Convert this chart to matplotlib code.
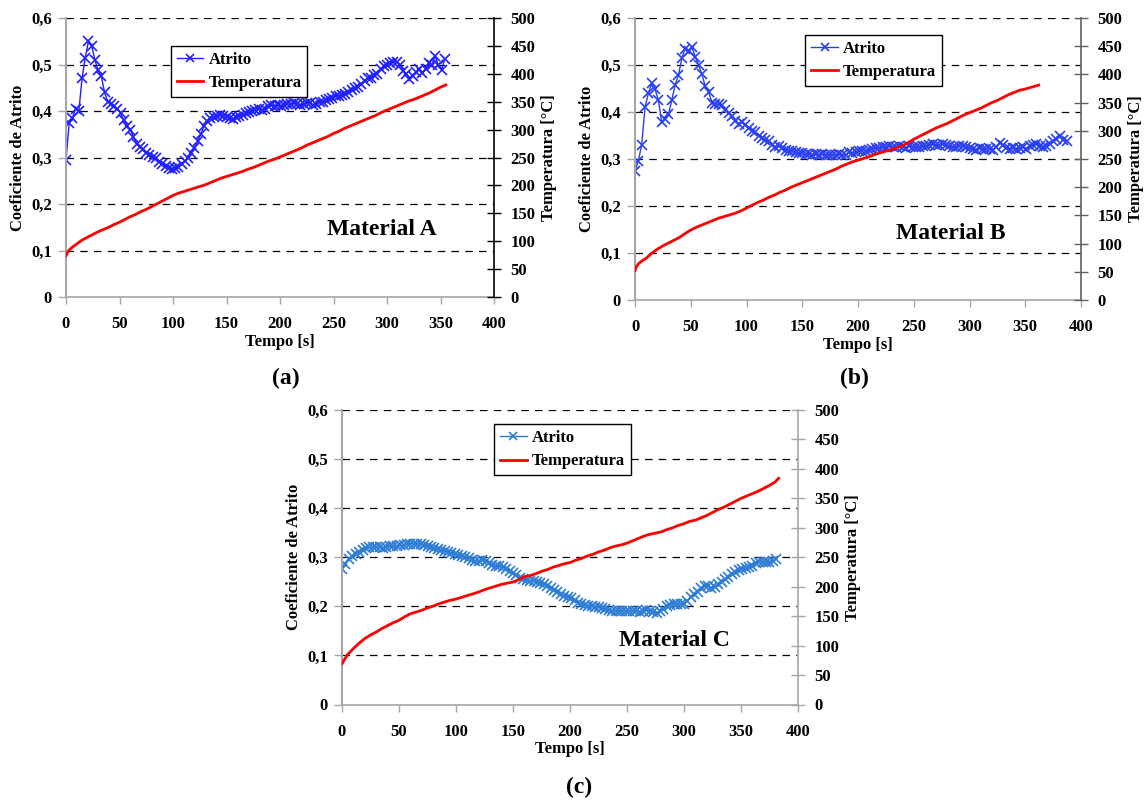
"""Friction coefficient and temperature vs time for materials A, B and C."""

import matplotlib

matplotlib.use("Agg")
import matplotlib.pyplot as plt
import numpy as np
from matplotlib.ticker import FuncFormatter

plt.rcParams["font.family"] = ["Liberation Serif", "DejaVu Serif"]
plt.rcParams["font.weight"] = "bold"

# friction coefficient, sampled every 3 s
STEP = 3.0
mu_a = [
    0.295, 0.375, 0.385, 0.405, 0.400, 0.470, 0.515, 0.550, 0.540, 0.510,
    0.488, 0.475, 0.440, 0.420, 0.415, 0.410, 0.405, 0.395, 0.380, 0.368,
    0.360, 0.345, 0.330, 0.322, 0.318, 0.310, 0.305, 0.302, 0.298, 0.290,
    0.285, 0.282, 0.277, 0.275, 0.277, 0.280, 0.285, 0.292, 0.300, 0.310,
    0.320, 0.335, 0.350, 0.368, 0.378, 0.385, 0.388, 0.390, 0.392, 0.390,
    0.388, 0.385, 0.382, 0.388, 0.390, 0.392, 0.395, 0.398, 0.400, 0.403,
    0.405, 0.402, 0.405, 0.410, 0.412, 0.410, 0.412, 0.410, 0.412, 0.415,
    0.415, 0.418, 0.415, 0.413, 0.415, 0.418, 0.418, 0.412, 0.416, 0.420,
    0.420, 0.423, 0.425, 0.428, 0.432, 0.433, 0.435, 0.436, 0.440, 0.445,
    0.450, 0.452, 0.458, 0.465, 0.470, 0.472, 0.478, 0.480, 0.490, 0.497,
    0.500, 0.503, 0.505, 0.505, 0.500, 0.487, 0.480, 0.468, 0.475, 0.483,
    0.490, 0.482, 0.490, 0.503, 0.500, 0.518, 0.498, 0.488, 0.512,
]
mu_b = [
    0.275, 0.296, 0.330, 0.410, 0.440, 0.462, 0.448, 0.425, 0.378, 0.385,
    0.395, 0.425, 0.458, 0.478, 0.515, 0.535, 0.530, 0.538, 0.518, 0.500,
    0.480, 0.455, 0.442, 0.420, 0.418, 0.416, 0.415, 0.405, 0.398, 0.392,
    0.380, 0.375, 0.378, 0.373, 0.365, 0.360, 0.358, 0.350, 0.345, 0.340,
    0.338, 0.330, 0.325, 0.328, 0.324, 0.320, 0.318, 0.316, 0.314, 0.313,
    0.312, 0.310, 0.311, 0.309, 0.310, 0.308, 0.310, 0.309, 0.308, 0.309,
    0.308, 0.310, 0.309, 0.308, 0.314, 0.312, 0.315, 0.316, 0.318, 0.317,
    0.320, 0.322, 0.323, 0.324, 0.326, 0.325, 0.327, 0.326, 0.325, 0.327,
    0.326, 0.324, 0.327, 0.325, 0.326, 0.325, 0.327, 0.328, 0.330, 0.331,
    0.330, 0.329, 0.331, 0.329, 0.327, 0.326, 0.325, 0.327, 0.328, 0.326,
    0.323, 0.322, 0.320, 0.323, 0.322, 0.321, 0.322, 0.320, 0.325, 0.335,
    0.330, 0.324, 0.322, 0.324, 0.321, 0.323, 0.325, 0.322, 0.327, 0.330,
    0.331, 0.328, 0.326, 0.328, 0.332, 0.338, 0.343, 0.348, 0.340, 0.338,
]
mu_c = [
    0.277, 0.287, 0.297, 0.302, 0.307, 0.311, 0.315, 0.318, 0.320, 0.320,
    0.321, 0.320, 0.319, 0.321, 0.322, 0.322, 0.323, 0.324, 0.325, 0.327,
    0.328, 0.327, 0.328, 0.326, 0.325, 0.322, 0.320, 0.318, 0.316, 0.314,
    0.313, 0.311, 0.309, 0.307, 0.305, 0.302, 0.300, 0.298, 0.295, 0.293,
    0.292, 0.294, 0.293, 0.289, 0.285, 0.283, 0.282, 0.280, 0.276, 0.272,
    0.268, 0.263, 0.258, 0.255, 0.254, 0.252, 0.251, 0.250, 0.248, 0.245,
    0.242, 0.238, 0.234, 0.230, 0.226, 0.222, 0.219, 0.216, 0.212, 0.207,
    0.204, 0.202, 0.201, 0.200, 0.199, 0.198, 0.196, 0.194, 0.192, 0.191,
    0.191, 0.190, 0.191, 0.190, 0.190, 0.191, 0.190, 0.189, 0.190, 0.192,
    0.191, 0.188, 0.187, 0.190, 0.195, 0.200, 0.203, 0.205, 0.205, 0.204,
    0.205, 0.210, 0.220, 0.226, 0.230, 0.238, 0.242, 0.241, 0.238, 0.240,
    0.245, 0.249, 0.255, 0.260, 0.265, 0.270, 0.274, 0.277, 0.278, 0.280,
    0.282, 0.288, 0.291, 0.290, 0.291, 0.290, 0.292, 0.296,
]

# temperature [°C]
temp_t_a = [0, 2] + list(range(5, 356, 5))
temp_a = [
    74, 82, 88, 95, 102, 107, 112, 117, 121, 125, 130, 134, 139, 144, 148,
    153, 157, 162, 167, 172, 177, 182, 186, 189, 192, 195, 198, 201, 205,
    209, 213, 216, 219, 222, 225, 229, 232, 236, 240, 244, 247, 251, 255,
    259, 263, 267, 272, 276, 280, 284, 288, 293, 297, 302, 306, 310, 314,
    318, 322, 326, 331, 335, 339, 343, 347, 351, 354, 358, 362, 366, 371,
    376, 380,
]
temp_t_b = [0, 1, 3, 6] + list(range(10, 356, 5)) + [362]
temp_b = [
    52, 58, 64, 69, 74, 83, 90, 96, 101, 106, 111, 118, 124, 129, 133, 137,
    141, 145, 148, 151, 154, 158, 163, 168, 173, 177, 182, 186, 191, 195,
    200, 204, 208, 212, 216, 220, 224, 228, 232, 237, 241, 245, 248, 251,
    254, 258, 261, 264, 267, 270, 274, 279, 285, 290, 295, 300, 305, 309,
    313, 318, 323, 328, 332, 336, 340, 345, 350, 354, 359, 364, 368, 372,
    374, 377, 381,
]
temp_t_c = [0, 2] + list(range(5, 381, 5)) + [383]
temp_c = [
    69, 76, 85, 95, 104, 112, 118, 123, 129, 134, 139, 143, 149, 154, 157,
    160, 164, 167, 171, 174, 177, 179, 182, 185, 188, 191, 195, 198, 201,
    204, 206, 208, 212, 217, 219, 222, 226, 229, 233, 236, 239, 241, 245,
    248, 252, 255, 259, 262, 266, 269, 271, 274, 278, 282, 286, 289, 291,
    293, 297, 300, 304, 307, 311, 313, 317, 321, 326, 331, 335, 340, 345,
    350, 354, 358, 362, 367, 372, 378, 384,
]

x_ticks = list(range(0, 401, 50))
mu_ticks = [0, 0.1, 0.2, 0.3, 0.4, 0.5, 0.6]
temp_ticks = list(range(0, 501, 50))

RED = "#ff0000"
GRAY = "#a6a6a6"


def _comma(v, _pos):
    if abs(v) < 1e-9:
        return "0"
    return f"{v:.1f}".replace(".", ",")


def draw_panel(fig, rect, mu, t_temp, temp, *, blue, right_color, material, mat_xy, leg_xy, tag, tag_xy):
    ax = fig.add_axes(rect)
    ax2 = ax.twinx()
    t_mu = np.arange(len(mu)) * STEP

    ax.set_xlim(0, 400)
    ax.set_ylim(0, 0.6)
    ax2.set_ylim(0, 500)
    ax.set_xticks(x_ticks)
    ax.set_yticks(mu_ticks)
    ax2.set_yticks(temp_ticks)
    ax.yaxis.set_major_formatter(FuncFormatter(_comma))

    for v in mu_ticks[1:]:
        ax.axhline(v, color="black", lw=0.9, ls=(0, (6, 5)), zorder=0)

    for side in ("top", "right"):
        ax.spines[side].set_visible(False)
    ax2.spines["top"].set_visible(False)
    ax2.spines["left"].set_visible(False)
    ax2.spines["bottom"].set_visible(False)
    ax.spines["left"].set_color(GRAY)
    ax.spines["bottom"].set_color(GRAY)
    ax.spines["left"].set_linewidth(1.5)
    ax.spines["bottom"].set_linewidth(1.2)
    ax2.spines["right"].set_color(right_color)
    ax2.spines["right"].set_linewidth(1.2)

    ax.tick_params(axis="y", direction="out", length=6, width=1, color=GRAY, pad=4, labelsize=12)
    ax.tick_params(axis="x", direction="out", length=5, width=1, color=GRAY, pad=9, labelsize=12)
    ax2.tick_params(axis="y", direction="inout", length=10, width=1, color=right_color, pad=7, labelsize=12)
    for lab in ax.get_xticklabels() + ax.get_yticklabels() + ax2.get_yticklabels():
        lab.set_fontweight("bold")

    l1, = ax.plot(t_mu, mu, color=blue, lw=1.0, marker="x", ms=6.5, mew=1.2, label="Atrito")
    l2, = ax2.plot(t_temp, temp, color=RED, lw=2.0, label="Temperatura")

    ax.set_xlabel("Tempo [s]", fontsize=12, fontweight="bold", labelpad=1)
    ax.set_ylabel("Coeficiente de Atrito", fontsize=12, fontweight="bold", labelpad=4)
    ax2.set_ylabel("Temperatura [°C]", fontsize=12, fontweight="bold", labelpad=4)

    leg = ax2.legend(
        [l1, l2], ["Atrito", "Temperatura"],
        loc="upper left", bbox_to_anchor=leg_xy, fontsize=12,
        frameon=True, fancybox=False, framealpha=1, edgecolor="black",
        handlelength=1.6, handletextpad=0.3, borderpad=0.35, labelspacing=0.45,
        borderaxespad=0, markerscale=0.8,
    )
    leg.get_frame().set_linewidth(1.0)
    for txt in leg.get_texts():
        txt.set_fontweight("bold")

    ax2.text(mat_xy[0], mat_xy[1] / 0.6 * 500, material, fontsize=17, fontweight="bold",
             ha="center", va="center")
    fig.text(tag_xy[0], tag_xy[1], tag, fontsize=17, fontweight="bold", ha="center", va="center")
    return ax, ax2


fig = plt.figure(figsize=(11.45, 8.0), dpi=100)

draw_panel(fig, [66 / 1145, 1 - 297 / 800, 428 / 1145, 279 / 800], mu_a, temp_t_a, temp_a,
           blue="#1f1fff", right_color="black", material="Material A", mat_xy=(295, 0.145),
           leg_xy=(0.245, 0.90), tag="(a)", tag_xy=(286 / 1145, 1 - 378 / 800))
draw_panel(fig, [635 / 1145, 1 - 300 / 800, 446 / 1145, 282 / 800], mu_b, temp_t_b, temp_b,
           blue="#2a40f0", right_color="#606060", material="Material B", mat_xy=(283, 0.141),
           leg_xy=(0.382, 0.94), tag="(b)", tag_xy=(854 / 1145, 1 - 378 / 800))
draw_panel(fig, [342 / 1145, 1 - 704.5 / 800, 456 / 1145, 294.5 / 800], mu_c, temp_t_c, temp_c,
           blue="#2c7bd4", right_color=GRAY, material="Material C", mat_xy=(292, 0.13),
           leg_xy=(0.334, 0.952), tag="(c)", tag_xy=(579 / 1145, 1 - 787 / 800))

fig.savefig("out.png", dpi=100)
